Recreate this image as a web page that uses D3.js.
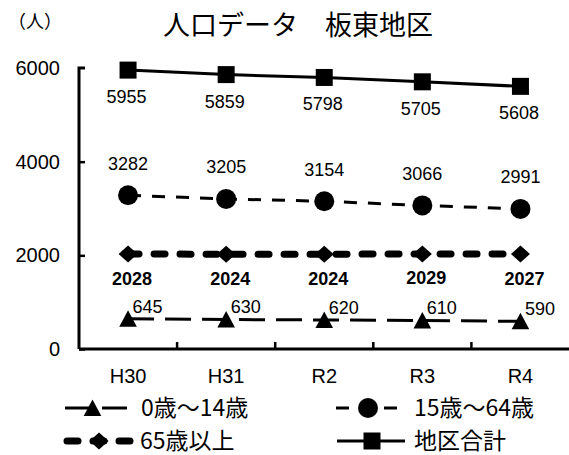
<!DOCTYPE html>
<html>
<head>
<meta charset="utf-8">
<script src="https://cdn.jsdelivr.net/npm/d3@7"></script>
<style>
  html, body { margin: 0; padding: 0; background: #fff; }
  svg { display: block; }
</style>
</head>
<body>
<svg id="chart" width="569" height="455"></svg>
<script>
const categories = ["H30", "H31", "R2", "R3", "R4"];
const age0to14 = [645, 630, 620, 610, 590];
const age15to64 = [3282, 3205, 3154, 3066, 2991];
const age65plus = [2028, 2024, 2024, 2029, 2027];
const totalPop = [5955, 5859, 5798, 5705, 5608];
const yTicks = [0, 2000, 4000, 6000];
const seriesNames = ["0歳～14歳", "15歳～64歳", "65歳以上", "地区合計"];
const titleText = "人口データ　板東地区";
const unitText = "（人）";

const svg = d3.select("#chart");
const numFont = "'Liberation Sans', Arial, sans-serif";
const jpFont = "'Noto Sans CJK JP', sans-serif";

const x = d3.scaleBand().domain(categories).range([79, 569.5]).padding(0);
const y = d3.scaleLinear().domain([0, 6000]).range([349, 68]);
const cx = c => x(c) + x.bandwidth() / 2;

// Title & unit
svg.append("text").attr("x", 298).attr("y", 35).attr("text-anchor", "middle")
  .attr("font-family", jpFont).attr("font-size", 27).attr("fill", "#000").text(titleText);
svg.append("text").attr("x", 8).attr("y", 28).attr("font-family", jpFont)
  .attr("font-size", 18).attr("fill", "#000").text(unitText);

// Axes
const yAxis = d3.axisLeft(y).tickValues(yTicks).tickSize(-6).tickPadding(19).tickFormat(d3.format("d"));
const gy = svg.append("g").attr("transform", "translate(79,0)").call(yAxis);
gy.select(".domain").attr("stroke", "#000").attr("stroke-width", 3).attr("d", "M-6,68H0V349");
gy.selectAll(".tick line").attr("stroke", "#000").attr("stroke-width", 2.5);
gy.selectAll(".tick text").attr("font-family", numFont).attr("font-size", 20).attr("fill", "#000");
gy.select(".tick:last-of-type line").remove();
gy.select(".domain").attr("d", "M6,68H0V349");

const xAxis = d3.axisBottom(x).tickSize(0).tickPadding(20);
const gx = svg.append("g").attr("transform", "translate(0,349)").call(xAxis);
gx.select(".domain").attr("stroke", "#000").attr("stroke-width", 3).attr("d", "M79,0H569.5");
gx.selectAll(".tick text").attr("font-family", numFont).attr("font-size", 20).attr("fill", "#000");
// inner tick marks at band boundaries
categories.slice(1).forEach(c => {
  gx.append("line").attr("x1", x(c)).attr("x2", x(c)).attr("y1", 0).attr("y2", -7)
    .attr("stroke", "#000").attr("stroke-width", 2.5);
});

// Marker paths
const markers = {
  tri: "M0,-8.5L8.8,8L-8.8,8Z",
  circle: d3.symbol().type(d3.symbolCircle).size(Math.PI * 10 * 10)(),
  diamond: "M0,-8.5L9.5,0L0,8.5L-9.5,0Z",
  square: "M-8.5,-8.5H8.5V8.5H-8.5Z"
};

const series = [
  { name: seriesNames[0], values: age0to14, dash: "26,11", width: 3, cap: "butt", marker: "tri" },
  { name: seriesNames[1], values: age15to64, dash: "13,11", width: 3, cap: "butt", marker: "circle" },
  { name: seriesNames[2], values: age65plus, dash: "11,15", width: 7, cap: "round", marker: "diamond" },
  { name: seriesNames[3], values: totalPop, dash: null, width: 3, cap: "butt", marker: "square" }
];

const line = d3.line().x(d => cx(d.c)).y(d => y(d.v));

series.forEach(s => {
  const pts = categories.map((c, i) => ({ c, v: s.values[i] }));
  svg.append("path").datum(pts).attr("d", line).attr("fill", "none")
    .attr("stroke", "#000").attr("stroke-width", s.width)
    .attr("stroke-dasharray", s.dash).attr("stroke-linecap", s.cap);
  svg.append("g").selectAll("path").data(pts).join("path")
    .attr("transform", d => `translate(${cx(d.c)},${y(d.v)})`)
    .attr("d", markers[s.marker]).attr("fill", "#000");
});

// Data labels
function labels(vals, opts) {
  svg.append("g").selectAll("text").data(categories.map((c, i) => ({ c, v: vals[i] }))).join("text")
    .attr("x", d => cx(d.c) + opts.dx).attr("y", d => y(d.v) + opts.dy)
    .attr("text-anchor", opts.anchor).attr("font-family", numFont)
    .attr("font-size", 18).attr("font-weight", opts.bold ? "bold" : "normal")
    .attr("fill", "#000").text(d => d.v);
}
labels(totalPop, { dx: -1.5, dy: 33, anchor: "middle" });
labels(age15to64, { dx: 0, dy: -25.5, anchor: "middle" });
labels(age65plus, { dx: 4, dy: 30.5, anchor: "middle", bold: true });
labels(age0to14, { dx: 4.5, dy: -6, anchor: "start" });

// Legend
const legendItems = [
  { s: series[0], x1: 65, x2: 127, mx: 92.5, tx: 141, ty: 416 },
  { s: series[1], x1: 336, x2: 397, mx: 368, tx: 414, ty: 416 },
  { s: series[2], x1: 67, x2: 130.5, mx: 99, tx: 140, ty: 449 },
  { s: series[3], x1: 337, x2: 405, mx: 372, tx: 414, ty: 449 }
];
legendItems.forEach(it => {
  const ly = it.ty - 8;
  svg.append("line").attr("x1", it.x1).attr("x2", it.x2).attr("y1", ly).attr("y2", ly)
    .attr("stroke", "#000").attr("stroke-width", it.s.width)
    .attr("stroke-dasharray", it.s.dash).attr("stroke-linecap", it.s.cap);
  svg.append("path").attr("transform", `translate(${it.mx},${ly})`)
    .attr("d", markers[it.s.marker]).attr("fill", "#000");
  svg.append("text").attr("x", it.tx).attr("y", it.ty).attr("font-family", jpFont)
    .attr("font-size", 23).attr("fill", "#000").text(it.s.name);
});
</script>
</body>
</html>
